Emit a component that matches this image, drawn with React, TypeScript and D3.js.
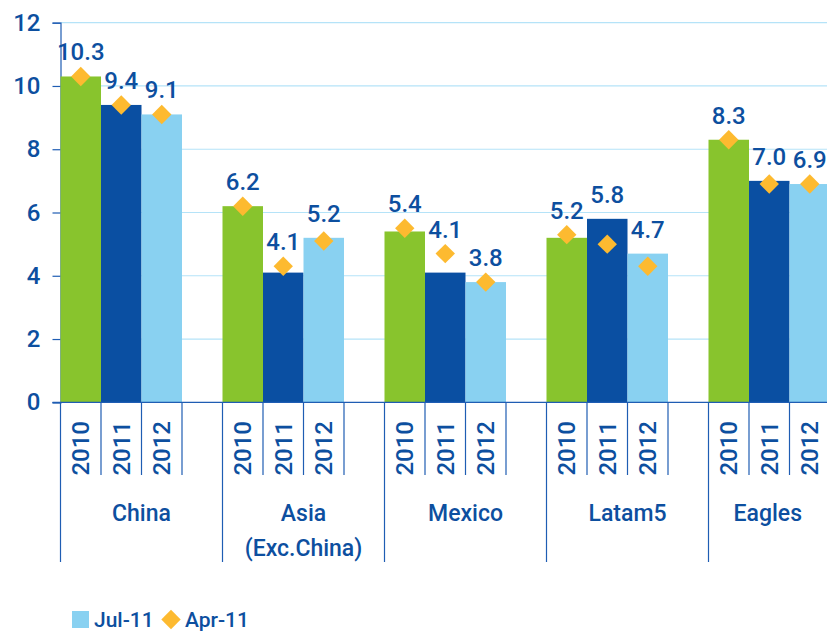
import { useEffect, useRef } from 'react';
import * as d3 from 'd3';

const regions = ['China', 'Asia\n(Exc.China)', 'Mexico', 'Latam5', 'Eagles'];
const years = ['2010', '2011', '2012'];
// Jul-11 forecast (bars)
const jul11 = [
  [10.3, 9.4, 9.1],
  [6.2, 4.1, 5.2],
  [5.4, 4.1, 3.8],
  [5.2, 5.8, 4.7],
  [8.3, 7.0, 6.9],
];
// Apr-11 forecast (diamonds)
const apr11 = [
  [10.3, 9.4, 9.1],
  [6.2, 4.3, 5.1],
  [5.5, 4.7, 3.8],
  [5.3, 5.0, 4.3],
  [8.3, 6.9, 6.9],
];
const yTicks = [0, 2, 4, 6, 8, 10, 12];

const W = 827;
const H = 632;
const FONT = 'Roboto, sans-serif';
const WEIGHT = 500;
const TEXT = '#0d4f9f';
const AXIS = '#1f5db3';
const GRID = '#b5e3f8';
const yearColors = ['#88c42d', '#0a4fa2', '#89d1f1'];
const DIAMOND = '#fdba30';

export default function App() {
  const svgRef = useRef<SVGSVGElement>(null);

  useEffect(() => {
    const svg = d3.select(svgRef.current);
    svg.selectAll('*').remove();

    const left = 60.5;
    const groupW = 162;
    const plotTop = 22.7;
    const plotBottom = 402.3;

    const x0 = d3.scaleBand().domain(regions).range([left, left + groupW * regions.length]);
    const x1 = d3.scaleBand().domain(years).range([0, groupW * 0.75]);
    const y = d3.scaleLinear().domain([0, 12]).range([plotBottom, plotTop]);

    // Grid
    svg.append('g')
      .selectAll('line')
      .data(yTicks.filter(t => t > 0))
      .join('line')
      .attr('x1', left)
      .attr('x2', W)
      .attr('y1', d => y(d))
      .attr('y2', d => y(d))
      .attr('stroke', GRID)
      .attr('stroke-width', 1.2);

    // Y axis
    const yAxis = svg.append('g')
      .attr('transform', `translate(${left},0)`)
      .call(d3.axisLeft(y).tickValues(yTicks).tickSize(8).tickPadding(12));
    yAxis.select('.domain').attr('stroke', AXIS).attr('stroke-width', 1.2);
    yAxis.selectAll('line').attr('stroke', AXIS).attr('stroke-width', 1.2);
    yAxis.selectAll('text')
      .attr('fill', TEXT)
      .style('font-family', FONT)
      .style('font-weight', WEIGHT)
      .style('font-size', '24px');

    // Bars
    const groups = svg.append('g')
      .selectAll('g')
      .data(regions)
      .join('g')
      .attr('transform', d => `translate(${x0(d)},0)`);

    groups.selectAll('rect')
      .data((_, i) => jul11[i].map((v, j) => ({ v, year: years[j], j })))
      .join('rect')
      .attr('x', d => x1(d.year)!)
      .attr('width', x1.bandwidth())
      .attr('y', d => y(d.v))
      .attr('height', d => plotBottom - y(d.v))
      .attr('fill', d => yearColors[d.j]);

    // Diamonds
    const diamond = d3.symbol().type(d3.symbolDiamond2).size(240);
    groups.selectAll('path.dia')
      .data((_, i) => apr11[i].map((v, j) => ({ v, year: years[j] })))
      .join('path')
      .attr('class', 'dia')
      .attr('d', diamond)
      .attr('transform', d => `translate(${x1(d.year)! + x1.bandwidth() / 2},${y(d.v)})`)
      .attr('fill', DIAMOND);

    // Value labels
    groups.selectAll('text.val')
      .data((_, i) => jul11[i].map((v, j) => ({ v, a: apr11[i][j], year: years[j] })))
      .join('text')
      .attr('class', 'val')
      .attr('x', d => x1(d.year)! + x1.bandwidth() / 2)
      .attr('y', d => Math.min(y(d.v), y(d.a)) - 16)
      .attr('text-anchor', 'middle')
      .attr('fill', TEXT)
      .style('font-family', FONT)
      .style('font-weight', WEIGHT)
      .style('font-size', '24px')
      .text(d => d.v.toFixed(1));

    // X axis baseline
    svg.append('line')
      .attr('x1', left - 8)
      .attr('x2', W)
      .attr('y1', plotBottom)
      .attr('y2', plotBottom)
      .attr('stroke', AXIS)
      .attr('stroke-width', 1.2);

    // Year separators and labels
    groups.selectAll('line.sep')
      .data(years)
      .join('line')
      .attr('class', 'sep')
      .attr('x1', d => x1(d)! + x1.bandwidth())
      .attr('x2', d => x1(d)! + x1.bandwidth())
      .attr('y1', plotBottom)
      .attr('y2', 475)
      .attr('stroke', AXIS)
      .attr('stroke-width', 1.2);

    groups.selectAll('text.year')
      .data(years)
      .join('text')
      .attr('class', 'year')
      .attr('transform', d => `translate(${x1(d)! + x1.bandwidth() / 2 + 8.5},421) rotate(-90)`)
      .attr('text-anchor', 'end')
      .attr('fill', TEXT)
      .style('font-family', FONT)
      .style('font-weight', WEIGHT)
      .style('font-size', '24px')
      .text(d => d);

    // Group separators
    groups.append('line')
      .attr('x1', 0)
      .attr('x2', 0)
      .attr('y1', plotBottom)
      .attr('y2', 562)
      .attr('stroke', AXIS)
      .attr('stroke-width', 1.2);

    // Group labels, centred on the visible part of each group
    groups.each(function (d) {
      const gx = x0(d)!;
      const cx = (Math.min(gx + groupW, W) - gx) / 2;
      const lines = d.split('\n');
      const t = d3.select(this).append('text')
        .attr('text-anchor', 'middle')
        .attr('fill', TEXT)
        .style('font-family', FONT)
        .style('font-weight', WEIGHT)
        .style('font-size', '23px');
      lines.forEach((ln, k) => {
        t.append('tspan')
          .attr('x', cx)
          .attr('y', 521 + k * 35)
          .text(ln);
      });
    });

    // Legend
    const lg = svg.append('g');
    lg.append('rect')
      .attr('x', 72)
      .attr('y', 611)
      .attr('width', 17)
      .attr('height', 17)
      .attr('fill', yearColors[2]);
    lg.append('text')
      .attr('x', 94)
      .attr('y', 627)
      .attr('fill', TEXT)
      .style('font-family', FONT)
      .style('font-weight', WEIGHT)
      .style('font-size', '21px')
      .text('Jul-11');
    lg.append('path')
      .attr('d', diamond)
      .attr('transform', 'translate(171,619.5)')
      .attr('fill', DIAMOND);
    lg.append('text')
      .attr('x', 185)
      .attr('y', 627)
      .attr('fill', TEXT)
      .style('font-family', FONT)
      .style('font-weight', WEIGHT)
      .style('font-size', '21px')
      .text('Apr-11');
  }, []);

  return (
    <svg
      ref={svgRef}
      width={W}
      height={H}
      style={{ position: 'absolute', left: 0, top: 0, background: '#fff' }}
    />
  );
}
